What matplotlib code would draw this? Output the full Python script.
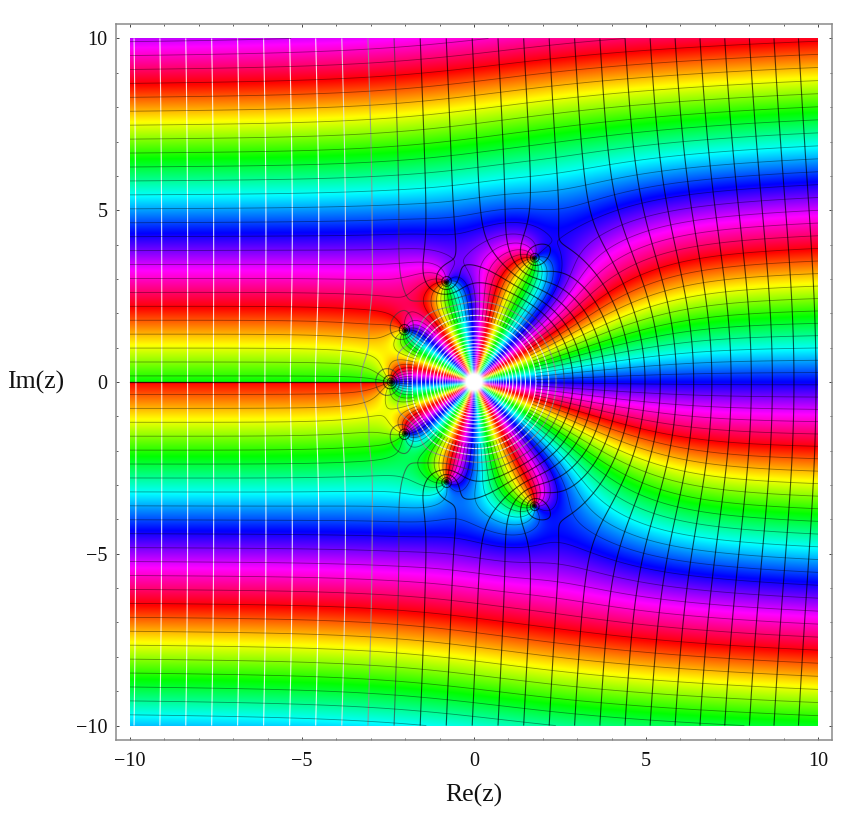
import numpy as np
import matplotlib
matplotlib.use("Agg")
import matplotlib.pyplot as plt
from matplotlib.colors import hsv_to_rgb

# zeros (upper half plane, mirrored below)
zeros_upper = [complex(-2.0, 1.5), complex(-0.8, 2.9), complex(1.75, 3.6)]
real_zero = -2.4
real_zero_order = 4 / 3
pole_order = 8
log_shift = 0.146
far_term_phase = 5.3
far_term_modulus = 2.8
hue_positive_axis = 2 / 3
level_step = 0.728
arg_offset = 0.09
tick_labels = ["\u221210", "\u22125", "0", "5", "10"]
tick_values = [-10, -5, 0, 5, 10]

plt.rcParams["font.family"] = ["Liberation Serif", "DejaVu Serif"]
plt.rcParams["contour.negative_linestyle"] = "solid"

n = 1200
xs = np.linspace(-10, 10, n)
ys = np.linspace(-10, 10, n)
X, Y = np.meshgrid(xs, ys)
Z = X + 1j * Y
R = np.abs(Z)

poly = np.ones_like(Z)
for zk in zeros_upper:
    poly = poly * (Z - zk) * (Z - np.conj(zk))

# right of the zeros the picture is flatter than the zeros alone give
far = (1 - np.exp(-(R / 6) ** 4)) * 0.5 * (1 + np.tanh((X - 1) / 4))
modulus = (-X + real_zero_order * np.log(np.abs(Z - real_zero) + 1e-12)
           + np.log(np.abs(poly) + 1e-12) - pole_order * np.log(R) + log_shift
           - far * far_term_modulus * X / R ** 2)
phase = (-Y + real_zero_order * np.angle(Z - real_zero)
         + np.angle(poly) - pole_order * np.angle(Z)
         + far * far_term_phase * Y / R ** 2)

hue = np.mod(phase / (2 * np.pi) + hue_positive_axis, 1.0)
sat = np.clip((20 - modulus) / 4, 0, 1)
rgb = hsv_to_rgb(np.dstack([hue, sat, np.ones_like(hue)]))

fig = plt.figure(figsize=(8.5, 8.18), dpi=100)
ax = fig.add_axes([116 / 850, 78 / 818, 716 / 850, 716 / 818])
ax.imshow(rgb, origin="lower", extent=[-10, 10, -10, 10], aspect="auto", interpolation="antialiased")

# modulus lines, gray follows the level
levels = np.arange(-30, 50) * level_step
grays = np.clip((levels - 0.2) / 2.2, 0, 1)
for lev, g in zip(levels, grays):
    if lev < 9:
        a = 0.65 if g < 0.5 else 0.85
    else:
        a = 0.5
    ax.contour(X, Y, modulus, levels=[lev], colors=[(g, g, g)], linewidths=0.8, alpha=a)

# phase lines
dy = ys[1] - ys[0]
hide = (R < 1.8) | ((np.abs(Y) < 1.5 * dy) & (X < real_zero))
for k in range(8):
    field = np.ma.array(np.sin(phase - arg_offset - k * np.pi / 8), mask=hide)
    ax.contour(X, Y, field, levels=[0], colors="k", linewidths=0.6, alpha=0.4)
ax.plot([-10, real_zero], [0, 0], color="k", lw=0.9, alpha=0.7)

ax.set_xlim(-10.407, 10.407)
ax.set_ylim(-10.42, 10.42)
ax.set_xticks(tick_values)
ax.set_xticklabels(tick_labels)
ax.set_yticks(tick_values)
ax.set_yticklabels(tick_labels)
ax.set_xticks(np.arange(-10, 11), minor=True)
ax.set_yticks(np.arange(-10, 11), minor=True)
ax.tick_params(which="major", direction="in", length=2.5, width=0.7, color="#444444",
               top=True, right=True, labelsize=14.5, pad=9, labelcolor="#111111")
ax.tick_params(which="minor", direction="in", length=1.2, width=0.6, color="#444444", top=True, right=True)
ax.tick_params(axis="y", which="major", pad=6)
for s in ax.spines.values():
    s.set_color("#8a8a8a")
    s.set_linewidth(1.1)

fig.text(474 / 850, 1 - 795 / 818, "Re(z)", fontsize=18.5, ha="center", va="center", color="#111111")
fig.text(36 / 850, 1 - 382 / 818, "Im(z)", fontsize=18.5, ha="center", va="center", color="#111111")

fig.savefig("out.png", dpi=100)
plt.close(fig)
